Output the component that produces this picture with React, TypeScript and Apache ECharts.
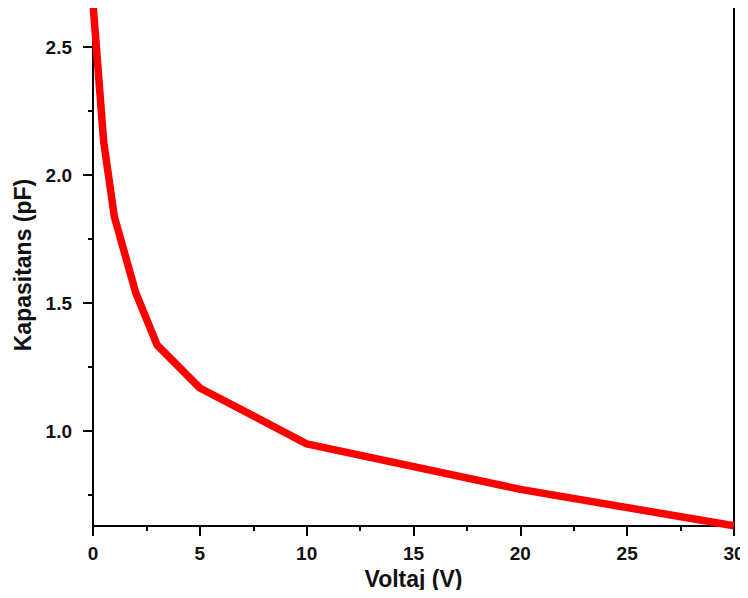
import React, { useEffect, useRef } from "react";
import * as echarts from "echarts";

const voltage = [0, 0.5, 1, 2, 3, 5, 10, 20, 30];
const capacitance = [2.67, 2.13, 1.837, 1.54, 1.336, 1.168, 0.95, 0.772, 0.63];
const yMajorTicks = [1.0, 1.5, 2.0, 2.5];
const yMinorTicks = [0.75, 1.25, 1.75, 2.25];
const xTitle = "Voltaj (V)";
const yTitle = "Kapasitans (pF)";

const FONT = "'Liberation Sans', Arial, sans-serif";

export default function App() {
  const ref = useRef<HTMLDivElement>(null);
  useEffect(() => {
    if (!ref.current) return;
    const chart = echarts.init(ref.current, undefined, { renderer: "svg" });
    chart.setOption({
      animation: false,
      backgroundColor: "#ffffff",
      grid: {
        left: 93,
        top: 4,
        right: 14,
        bottom: 72,
        show: true,
        borderColor: "#000",
        borderWidth: 2,
        backgroundColor: "transparent",
      },
      xAxis: {
        type: "value",
        min: 0,
        max: 30,
        interval: 5,
        name: xTitle,
        nameLocation: "middle",
        nameGap: 41,
        nameTextStyle: { fontFamily: FONT, fontWeight: "bold", fontSize: 23, color: "#111" },
        axisLine: { show: true, lineStyle: { color: "#000", width: 2 } },
        axisTick: { show: true, inside: false, length: 10, lineStyle: { color: "#000", width: 2 } },
        minorTick: { show: true, splitNumber: 2, length: 5, lineStyle: { color: "#000", width: 2 } },
        axisLabel: { fontFamily: FONT, fontWeight: "bold", fontSize: 19, color: "#111", margin: 18 },
        splitLine: { show: false },
      },
      yAxis: [
        {
          type: "value",
          min: 0.629,
          max: 2.668,
          name: yTitle,
          nameLocation: "middle",
          nameGap: 56,
          nameRotate: 90,
          nameTextStyle: { fontFamily: FONT, fontWeight: "bold", fontSize: 23, color: "#111" },
          axisLine: { show: true, lineStyle: { color: "#000", width: 2 } },
          axisTick: {
            show: true,
            inside: false,
            length: 10,
            customValues: yMajorTicks,
            lineStyle: { color: "#000", width: 2 },
          },
          axisLabel: {
            fontFamily: FONT,
            fontWeight: "bold",
            fontSize: 19,
            color: "#111",
            margin: 21,
            customValues: yMajorTicks,
            formatter: (v: number) => v.toFixed(1),
          },
          splitLine: { show: false },
        },
        {
          type: "value",
          min: 0.629,
          max: 2.668,
          position: "left",
          axisLine: { show: false },
          axisTick: {
            show: true,
            inside: false,
            length: 5,
            customValues: yMinorTicks,
            lineStyle: { color: "#000", width: 2 },
          },
          axisLabel: { show: false },
          splitLine: { show: false },
        },
      ],
      series: [
        {
          type: "line",
          data: voltage.map((v, i) => [v, capacitance[i]]),
          showSymbol: false,
          symbol: "none",
          lineStyle: { color: "#ff0000", width: 7.5, join: "round" },
          clip: true,
        },
      ],
    });
    return () => chart.dispose();
  }, []);
  return <div ref={ref} style={{ width: 748, height: 598, margin: -8 }} />;
}
